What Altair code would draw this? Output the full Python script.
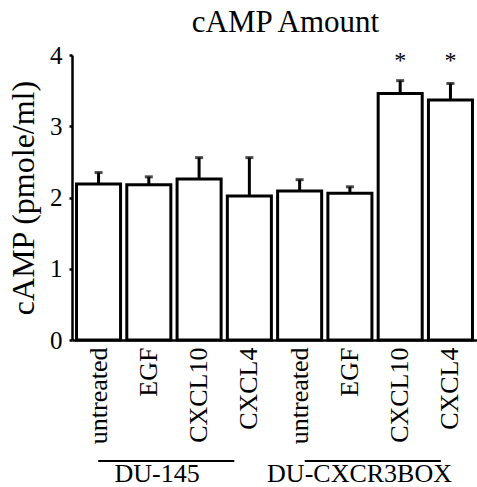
import altair as alt
import pandas as pd

# cAMP measurements (pmole/ml): mean and mean + SD for each treatment
conditions = ["untreated", "EGF", "CXCL10", "CXCL4",
              "untreated ", "EGF ", "CXCL10 ", "CXCL4 "]
cell_lines = ["DU-145"] * 4 + ["DU-CXCR3BOX"] * 4
means = [2.19, 2.18, 2.26, 2.02, 2.09, 2.06, 3.46, 3.37]
upper = [2.35, 2.29, 2.56, 2.56, 2.25, 2.15, 3.64, 3.60]
significant = ["", "", "", "", "", "", "*", "*"]

groups = ["DU-145", "DU-CXCR3BOX"]

FONT = "Liberation Serif"

df = pd.DataFrame({
    "condition": conditions,
    "cell_line": cell_lines,
    "mean": means,
    "upper": upper,
    "sig": significant,
})
gdf = pd.DataFrame({"group": groups})

x_scale = alt.Scale(domain=conditions, paddingInner=0.124, paddingOuter=0.09)
y_scale = alt.Scale(domain=[0, 4], nice=False)

y_axis = alt.Axis(
    title="cAMP (pmole/ml)",
    values=[0, 1, 2, 3, 4],
    format="d",
    titleFont=FONT,
    titleFontSize=32,
    titleFontWeight="normal",
    titleColor="black",
    titlePadding=9,
    labelFont=FONT,
    labelFontSize=25,
    labelColor="black",
    labelPadding=7,
    tickSize=3,
    tickWidth=2.5,
    tickColor="black",
    domainWidth=2.5,
    domainColor="black",
    grid=False,
)

x_enc = alt.X(
    "condition:N",
    scale=x_scale,
    sort=conditions,
    axis=alt.Axis(
        title=None,
        labelAngle=-90,
        labelFont=FONT,
        labelFontSize=26,
        labelColor="black",
        labelPadding=7,
        labelExpr="trim(datum.label)",
        ticks=False,
        domainWidth=2.5,
        domainColor="black",
        grid=False,
    ),
)
x_plain = alt.X("condition:N", scale=x_scale, sort=conditions)

base = alt.Chart(df)

bars = base.mark_bar(fill="white", stroke="black", strokeWidth=3).encode(
    x=x_enc, y=alt.Y("mean:Q", scale=y_scale, axis=y_axis)
)

err_line = base.mark_rule(color="black", strokeWidth=3).encode(
    x=x_plain,
    y=alt.Y("mean:Q", scale=y_scale, axis=y_axis),
    y2="upper:Q",
)

err_cap = base.mark_tick(color="black", thickness=3, size=8, orient="horizontal").encode(
    x=x_plain,
    y=alt.Y("upper:Q", scale=y_scale, axis=y_axis),
)

stars = base.mark_text(font=FONT, fontSize=24, baseline="middle", dy=6, color="black").encode(
    x=x_plain,
    y=alt.Y("sig_y:Q", scale=y_scale, axis=y_axis),
    text="sig:N",
).transform_calculate(sig_y="4")

main = alt.layer(bars, err_line, err_cap, stars)

# underline bars and names for the two cell lines, below the tick labels
group_scale = alt.Scale(domain=groups, paddingInner=0.341, paddingOuter=0.151, align=0.42)

group_lines = alt.Chart(gdf).mark_bar(color="black").encode(
    x=alt.X("group:N", scale=group_scale, axis=None),
    y=alt.value(405),
    y2=alt.value(407),
)
group_text = alt.Chart(gdf).mark_text(
    font=FONT, fontSize=26, baseline="alphabetic", color="black"
).encode(
    x=alt.X("group:N", scale=group_scale, axis=None),
    y=alt.value(427),
    text="group:N",
)

chart = (
    alt.layer(main, group_lines, group_text)
    .resolve_scale(x="independent")
    .properties(
        width=405,
        height=285,
        autosize=alt.AutoSizeParams(type="none"),
        padding={"left": 72, "top": 55, "right": 0, "bottom": 147},
        title=alt.TitleParams(
            "cAMP Amount",
            font=FONT,
            fontSize=31,
            fontWeight="normal",
            color="black",
            anchor="middle",
            dx=11,
            offset=4,
        ),
    )
    .configure(
        background="white",
        style={
            "guide-label": {"font": FONT, "fill": "black"},
            "guide-title": {"font": FONT, "fontWeight": "normal", "fill": "black"},
        },
    )
    .configure_view(stroke=None)
)

chart.save("out.html", embed_options={"renderer": "svg", "actions": False})
